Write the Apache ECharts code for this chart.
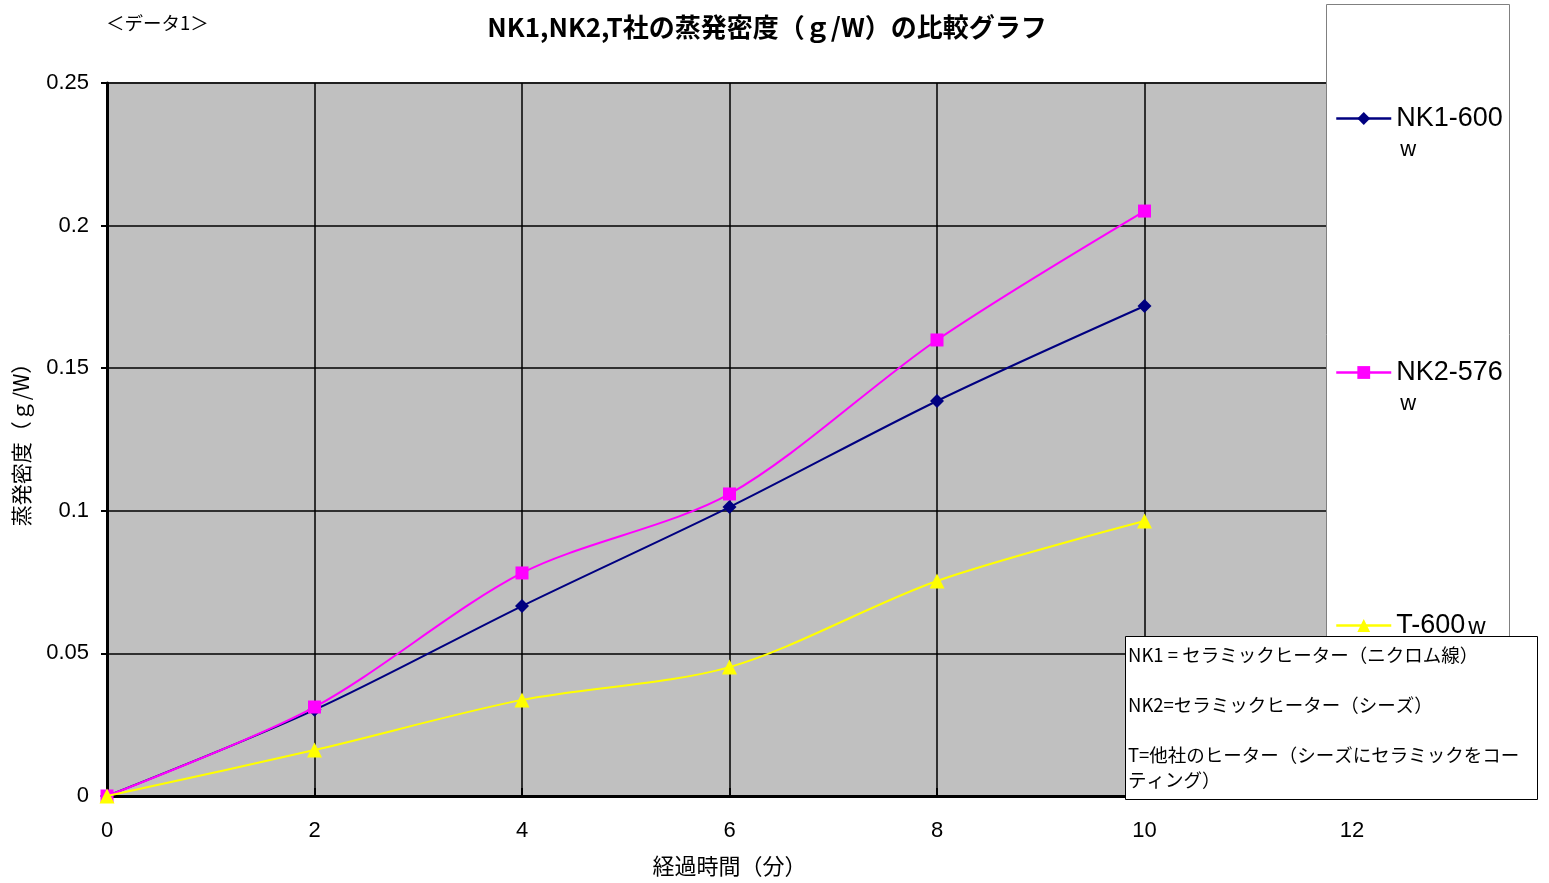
<!DOCTYPE html>
<html><head><meta charset="utf-8">
<script src="https://cdn.jsdelivr.net/npm/echarts@6/dist/echarts.min.js"></script>
<style>html,body{margin:0;padding:0;background:#fff}#c{width:1549px;height:883px}</style>
</head><body><div id="c"></div>
<script>
var minutes = [0, 2, 4, 6, 8, 10];
var nk1 = [0, 0.0302, 0.0666, 0.1013, 0.1385, 0.1718];
var nk2 = [0, 0.0312, 0.0782, 0.1059, 0.1599, 0.2051];
var tco = [0, 0.0161, 0.0337, 0.0452, 0.0754, 0.0964];
var seriesNames = ['NK1-600w', 'NK2-576w', 'T-600w'];

var JP = '"Noto Sans CJK JP", sans-serif';
var AR = '"Liberation Sans", Arial, sans-serif';
function pairs(v){ return minutes.map(function(m,i){return [m, v[i]];}); }

var chart = echarts.init(document.getElementById('c'));
function legendFor(name, top, fmt){
  return {
    data: [name], left: 1335, top: top, orient: 'vertical', padding: 0,
    itemWidth: 55, itemHeight: 16, z: 40,
    lineStyle: { width: 2.5 },
    formatter: function(){ return fmt; },
    textStyle: { color: '#000', rich: {
      e: { fontSize: 10, lineHeight: 33 },
      a: { fontSize: 27, lineHeight: 30, fontFamily: AR, color: '#000' },
      b: { fontSize: 22, lineHeight: 33, fontFamily: AR, color: '#000', padding: [0,0,0,4] },
      s: { fontSize: 24, lineHeight: 30, fontFamily: AR, color: '#000', padding: [4,0,0,3] }
    }}
  };
}
var option = {
  animation: false,
  backgroundColor: '#fff',
  title: [
    { text: 'NK1,NK2,T社の蒸発密度（ｇ/W）の比較グラフ', left: 762, textAlign: 'center', top: 9,
      textStyle: { fontFamily: JP, fontSize: 26, fontWeight: 'bold', color: '#000' } },
    { text: '＜データ1＞', left: 101, top: 9,
      textStyle: { fontFamily: JP, fontSize: 18.5, fontWeight: 'normal', color: '#000' } }
  ],
  grid: { left: 107, right: 197, top: 83, bottom: 87, outerBoundsMode: 'none', containLabel: false,
    show: true, backgroundColor: '#C0C0C0', borderColor: '#808080', borderWidth: 2 },
  xAxis: {
    type: 'value', min: 0, max: 12, interval: 2,
    name: '経過時間（分）', nameLocation: 'middle', nameGap: 59,
    nameTextStyle: { fontFamily: JP, fontSize: 22, color: '#000' },
    axisLine: { onZero: false, lineStyle: { color: '#000', width: 3 } },
    axisTick: { show: true, inside: true, length: 8, lineStyle: { color: '#000', width: 2 } },
    axisLabel: { fontFamily: AR, fontSize: 22, color: '#000', margin: 24 },
    splitLine: { show: true, lineStyle: { color: '#000', width: 1.5 } }
  },
  yAxis: {
    type: 'value', min: 0, max: 0.25, interval: 0.05,
    name: '蒸発密度（ｇ/W）', nameLocation: 'middle', nameGap: 75, nameRotate: 90,
    nameTextStyle: { fontFamily: JP, fontSize: 21, color: '#000' },
    axisLine: { show: true, lineStyle: { color: '#000', width: 3 } },
    axisTick: { show: true, inside: false, length: 6, lineStyle: { color: '#000', width: 2 } },
    axisLabel: { fontFamily: AR, fontSize: 22, color: '#000', margin: 18 },
    splitLine: { show: true, lineStyle: { color: '#000', width: 1.5 } }
  },
  legend: [
    legendFor(seriesNames[0], 82, '{e| }\n{a|NK1-600}\n{b|w}'),
    legendFor(seriesNames[1], 336, '{e| }\n{a|NK2-576}\n{b|w}'),
    legendFor(seriesNames[2], 589, '{e| }\n{a|T-600}{s|w}\n{e| }')
  ],
  graphic: [
    { type: 'rect', z: 30, shape: { x: 1326.5, y: 4.5, width: 183, height: 660 },
      style: { fill: '#fff', stroke: '#808080', lineWidth: 1 } },
    { type: 'rect', z: 50, shape: { x: 1125.5, y: 636.5, width: 412, height: 163 },
      style: { fill: '#fff', stroke: '#000', lineWidth: 1 } },
    { type: 'text', z: 51, x: 1128, y: 642,
      style: { text: 'NK1 = セラミックヒーター（ニクロム線）\n\nNK2=セラミックヒーター（シーズ）\n\nT=他社のヒーター（シーズにセラミックをコー\nティング）',
        font: '18.5px ' + JP, lineHeight: 25, fill: '#000', verticalAlign: 'top' } }
  ],
  series: [
    { name: seriesNames[0], type: 'line', data: pairs(nk1), smooth: 0.3, symbol: 'diamond', symbolSize: 14,
      lineStyle: { color: '#000080', width: 2 }, itemStyle: { color: '#000080' }, z: 5 },
    { name: seriesNames[1], type: 'line', data: pairs(nk2), smooth: 0.3, symbol: 'rect', symbolSize: 13,
      lineStyle: { color: '#FF00FF', width: 2 }, itemStyle: { color: '#FF00FF' }, z: 6 },
    { name: seriesNames[2], type: 'line', data: pairs(tco), smooth: 0.3, symbol: 'triangle', symbolSize: 15,
      lineStyle: { color: '#FFFF00', width: 2 }, itemStyle: { color: '#FFFF00' }, z: 7 }
  ]
};
chart.setOption(option);
</script></body></html>
